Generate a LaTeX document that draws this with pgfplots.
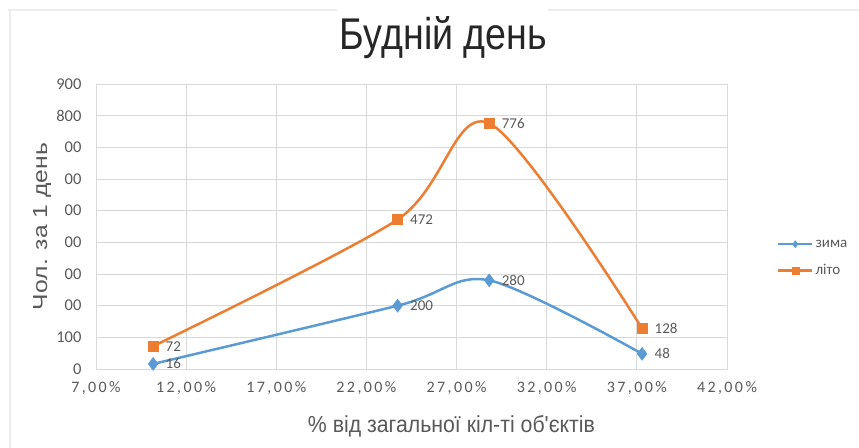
\documentclass[border=0pt]{standalone}
\usepackage{fontspec}
\setmainfont{Carlito}
\newfontfamily\xtf[LetterSpace=15]{Carlito}
\newfontfamily\lab{Liberation Sans}
\usepackage{graphicx}
\usepackage{pgfplots}
\pgfplotsset{compat=1.18}
\definecolor{zblue}{HTML}{5B9BD5}
\definecolor{lorange}{HTML}{ED7D31}
\definecolor{txt}{HTML}{595959}
\definecolor{grd}{HTML}{D9D9D9}
\definecolor{ttl}{HTML}{262626}
\begin{document}
\begin{tikzpicture}[x=1pt,y=1pt]
\path[use as bounding box] (0,0) rectangle (859,447);
\draw[gray!15, line width=2pt] (8,437) -- (337,437) (548,437) -- (880,437);
\draw[gray!15, line width=2pt] (10,438) -- (10,-10);
\begin{axis}[
  at={(96pt,78pt)}, anchor=south west,
  width=631pt, height=285pt, scale only axis,
  xmin=7, xmax=42, ymin=0, ymax=900,
  /pgf/number format/assume math mode=true,
  xtick={7,12,17,22,27,32,37,42},
  xticklabels={{7,00\%},{12,00\%},{17,00\%},{22,00\%},{27,00\%},{32,00\%},{37,00\%},{42,00\%}},
  ytick={0,100,200,300,400,500,600,700,800,900},
  yticklabels={0,100,00,00,00,00,00,00,800,900},
  grid=major, grid style={grd, line width=0.8pt},
  axis line style={grd, line width=0.8pt},
  tick style={draw=none},
  yticklabel style={font=\fontsize{16.5}{16.5}\selectfont, text=txt, xshift=-11pt},
  xticklabel style={font=\xtf\fontsize{16}{16}\selectfont, text=txt, yshift=-9pt},
  legend style={at={(1.079,0.389)}, anchor=west, draw=none, fill=none,
    inner sep=0pt, font=\fontsize{15}{15}\selectfont, text=txt, row sep=12pt},
  legend cell align=left,
  legend image code/.code={\draw[#1, mark repeat=2, mark phase=2, mark size=3.5pt]
    plot coordinates {(0pt,0pt) (17pt,0pt) (34pt,0pt)};},
  every node near coord/.append style={anchor=west, xshift=9pt,
    font=\fontsize{15}{15}\selectfont, text=txt},
]
\addplot[zblue, line width=2.5pt, smooth, tension=0.5, mark=diamond*,
  mark size=6.5pt, mark options={solid, line width=0.5pt},
  nodes near coords, point meta=y]
  coordinates {(10.17,16) (23.73,200) (28.81,280) (37.29,48)};
\addlegendentry{зима}
\addplot[lorange, line width=2.5pt, smooth, tension=0.5, mark=square*,
  mark size=5pt, mark options={solid, line width=0.5pt},
  nodes near coords, point meta=y]
  coordinates {(10.17,72) (23.73,472) (28.81,776) (37.29,128)};
\addlegendentry{літо}
\end{axis}
\node[anchor=base, inner sep=0pt, text=ttl] at (443.5,397)
  {\resizebox{207pt}{33pt}{\lab Будній день}};
\node[anchor=base, inner sep=0pt, text=txt] at (451.5,15)
  {\resizebox{287pt}{17pt}{\lab \% від загальної кіл-ті об'єктів}};
\node[rotate=90, anchor=base, inner sep=0pt, text=txt] at (47,220.5)
  {\resizebox{167pt}{14pt}{\lab Чол. за 1 день}};
\end{tikzpicture}
\end{document}
